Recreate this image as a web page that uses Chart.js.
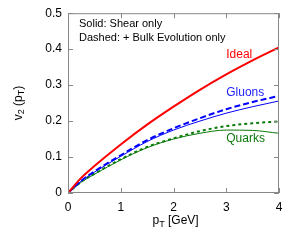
<!DOCTYPE html>
<html>
<head>
<meta charset="utf-8">
<script src="https://cdn.jsdelivr.net/npm/chart.js@4"></script>
<style>
	html, body { margin: 0; padding: 0; background: #fff; }
	#wrap { width: 296px; height: 240px; }
</style>
</head>
<body>
<div id="wrap"><canvas id="v2chart"></canvas></div>
<script>
// pT grid and v2 values
var pt = [0, 0.25, 0.5, 1, 1.5, 2, 2.5, 3, 3.5, 4]
var ideal = [0, 0.042, 0.075, 0.135, 0.19, 0.24, 0.287, 0.33, 0.369, 0.405]
var gluonsBulk = [0, 0.034, 0.06, 0.105, 0.147, 0.18, 0.208, 0.233, 0.253, 0.27]
var gluonsShear = [0, 0.033, 0.058, 0.102, 0.143, 0.175, 0.2, 0.222, 0.24, 0.256]
var quarksBulk = [0, 0.031, 0.053, 0.094, 0.128, 0.152, 0.172, 0.186, 0.194, 0.199]
var quarksShear = [0, 0.03, 0.052, 0.092, 0.126, 0.15, 0.166, 0.175, 0.174, 0.166]
var xTicks = [0, 1, 2, 3, 4]
var yTicks = [0, 0.1, 0.2, 0.3, 0.4, 0.5]

var RED = '#ff0000'
var BLUE = '#0000ff'
var GREEN = '#0a7a0a'
var FONT = '"Liberation Sans", Arial, sans-serif'

function pts(ys) {
	return pt.map(function(x, i) { return { x: x, y: ys[i] } })
}

function line(ys, color, width, dash) {
	return {
		data: pts(ys),
		borderColor: color,
		borderWidth: width,
		borderDash: dash || [],
		pointRadius: 0,
		fill: false,
		tension: 0.4,
		cubicInterpolationMode: 'monotone'
	}
}

// frame, inner ticks, annotations and axis titles
var decor = {
	id: 'decor',
	afterDraw: function(chart) {
		var c = chart.ctx
		var a = chart.chartArea
		var xs = chart.scales.x
		var ys = chart.scales.y
		c.save()
		c.strokeStyle = '#888'
		c.lineWidth = 1
		c.strokeRect(a.left + 0.5, a.top + 0.5, a.right - a.left - 1, a.bottom - a.top - 1)
		c.beginPath()
		xTicks.forEach(function(v) {
			var px = Math.round(xs.getPixelForValue(v)) + 0.5
			c.moveTo(px, a.bottom); c.lineTo(px, a.bottom - 5)
			c.moveTo(px, a.top); c.lineTo(px, a.top + 5)
		})
		yTicks.forEach(function(v) {
			var py = Math.round(ys.getPixelForValue(v)) + 0.5
			c.moveTo(a.left, py); c.lineTo(a.left + 5, py)
			c.moveTo(a.right, py); c.lineTo(a.right - 5, py)
		})
		c.stroke()

		c.textBaseline = 'middle'
		c.textAlign = 'left'
		c.font = '11px ' + FONT
		c.fillStyle = '#000'
		c.fillText('Solid: Shear only', a.left + 11, 24)
		c.fillText('Dashed: + Bulk Evolution only', a.left + 11, 38)

		c.font = '12px ' + FONT
		c.fillStyle = RED
		c.fillText('Ideal', xs.getPixelForValue(3.0), ys.getPixelForValue(0.385))
		c.fillStyle = '#2222ff'
		c.fillText('Gluons', xs.getPixelForValue(3.0), ys.getPixelForValue(0.279))
		c.fillStyle = GREEN
		c.fillText('Quarks', xs.getPixelForValue(3.0), ys.getPixelForValue(0.15))

		// x title: pT [GeV]
		c.fillStyle = '#000'
		c.font = '12px ' + FONT
		var xt = (a.left + a.right) / 2 - 21
		c.fillText('p', xt, 221)
		var w = c.measureText('p').width
		c.font = '9px ' + FONT
		c.fillText('T', xt + w, 225)
		var w2 = c.measureText('T').width
		c.font = '12px ' + FONT
		c.fillText(' [GeV]', xt + w + w2, 221)

		// y title: v2 (pT)
		c.translate(19, (a.top + a.bottom) / 2)
		c.rotate(-Math.PI / 2)
		var parts = [['v', 12, 0], ['2', 9, 3], [' (p', 12, 0], ['T', 9, 3], [')', 12, 0]]
		var total = 0
		parts.forEach(function(p) { c.font = p[1] + 'px ' + FONT; total += c.measureText(p[0]).width })
		var cx = -total / 2
		parts.forEach(function(p) {
			c.font = p[1] + 'px ' + FONT
			c.fillText(p[0], cx, p[2])
			cx += c.measureText(p[0]).width
		})
		c.restore()
	}
}

new Chart(document.getElementById('v2chart'), {
	type: 'line',
	data: {
		datasets: [
			line(ideal, RED, 2),
			line(gluonsBulk, BLUE, 2, [6, 3]),
			line(gluonsShear, BLUE, 1),
			line(quarksBulk, GREEN, 2, [3, 3]),
			line(quarksShear, GREEN, 1)
		]
	},
	options: {
		responsive: true,
		maintainAspectRatio: false,
		animation: false,
		layout: { padding: { top: 13, right: 17, left: 0, bottom: 0 } },
		plugins: { legend: { display: false }, tooltip: { enabled: false } },
		scales: {
			x: {
				type: 'linear',
				min: 0,
				max: 4,
				afterFit: function(s) { s.height = 47 },
				afterBuildTicks: function(s) { s.ticks = xTicks.map(function(v) { return { value: v } }) },
				grid: { display: false, drawTicks: false },
				border: { display: false },
				ticks: { color: '#000', padding: 7, maxRotation: 0, font: { size: 12, family: FONT } }
			},
			y: {
				min: 0,
				max: 0.5,
				afterFit: function(s) { s.width = 68 },
				afterBuildTicks: function(s) { s.ticks = yTicks.map(function(v) { return { value: v } }) },
				grid: { display: false, drawTicks: false },
				border: { display: false },
				ticks: { color: '#000', padding: 6, font: { size: 12, family: FONT } }
			}
		}
	},
	plugins: [decor]
})
</script>
</body>
</html>
